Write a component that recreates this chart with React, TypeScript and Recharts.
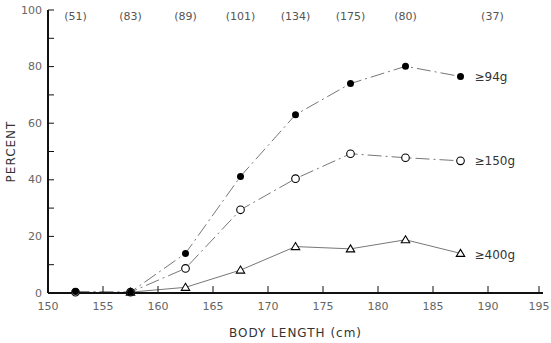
import React from 'react';
import { ComposedChart, Line, Scatter, XAxis, YAxis } from 'recharts';

const lengths = [152.5, 157.5, 162.5, 167.5, 172.5, 177.5, 182.5, 187.5];
const over94 = [0.5, 0.3, 14, 41.2, 63, 74, 80.1, 76.5];
const over150 = [0.3, 0.3, 8.7, 29.4, 40.4, 49.2, 47.8, 46.7];
const over400 = [null, 0.3, 2, 8.1, 16.4, 15.6, 18.8, 14];

const sampleX = [152.5, 157.5, 162.5, 167.5, 172.5, 177.5, 182.5, 190.4];
const sampleCounts = ['(51)', '(83)', '(89)', '(101)', '(134)', '(175)', '(80)', '(37)'];

const xTicks = [150, 155, 160, 165, 170, 175, 180, 185, 190, 195];
const yTicks = [0, 10, 20, 30, 40, 50, 60, 70, 80, 90, 100];

const FONT = '"DejaVu Sans", sans-serif';
const INK = '#333';

const toRows = (values: (number | null)[]) =>
  lengths.map((x, i) => ({ x, y: values[i] }));

const countRows = sampleX.map((x, i) => ({ x, y: 97.7, label: sampleCounts[i] }));

const FilledDot = (p: any) =>
  p.cy == null ? <g key={p.index} /> : <circle key={p.index} cx={p.cx} cy={p.cy} r={3.5} fill="#000" />;

const OpenDot = (p: any) =>
  p.cy == null ? <g key={p.index} /> : (
    <circle key={p.index} cx={p.cx} cy={p.cy} r={3.8} fill="#fff" stroke="#000" strokeWidth={1.1} />
  );

const TriDot = (p: any) =>
  p.cy == null ? <g key={p.index} /> : (
    <path
      key={p.index}
      d={`M${p.cx},${p.cy - 4} L${p.cx + 4.2},${p.cy + 3} L${p.cx - 4.2},${p.cy + 3} Z`}
      fill="#fff"
      stroke="#000"
      strokeWidth={1.1}
    />
  );

const endLabel = (text: string, dy: number) => (p: any) =>
  p.index === lengths.length - 1 ? (
    <text x={p.x + 14} y={p.y + dy} fontSize={12} fontFamily={FONT} fill={INK} dominantBaseline="central">
      {text}
    </text>
  ) : (
    <g />
  );

const YTick = ({ x, y, payload }: any) => (
  <g>
    <line x1={x} x2={x + 6} y1={y} y2={y} stroke="#111" />
    {payload.value % 20 === 0 && (
      <text x={x - 6} y={y} textAnchor="end" dominantBaseline="central" fontSize={11} fontFamily={FONT} fill="#666">
        {payload.value}
      </text>
    )}
  </g>
);

const XTick = ({ x, y, payload }: any) => (
  <g>
    <line x1={x} x2={x} y1={y} y2={y - 7} stroke="#111" />
    <text x={x} y={y + 13} textAnchor="middle" dominantBaseline="central" fontSize={11} fontFamily={FONT} fill="#666">
      {payload.value}
    </text>
  </g>
);

const CountLabel = (p: any) => (
  <text x={p.cx} y={p.cy} textAnchor="middle" dominantBaseline="central" fontSize={11} fontFamily={FONT} fill="#555">
    {p.payload.label}
  </text>
);

export default function App() {
  return (
    <div style={{ position: 'absolute', left: 0, top: 0, background: '#fff' }}>
      <ComposedChart width={551} height={343} margin={{ top: 10, right: 8, bottom: 0, left: 0 }}>
        <XAxis
          type="number"
          dataKey="x"
          domain={[150, 195]}
          ticks={xTicks}
          height={50}
          tickSize={0}
          tickMargin={0}
          tick={<XTick />}
          axisLine={{ stroke: '#111', strokeWidth: 2 }}
          tickLine={false}
          allowDataOverflow
          label={{
            value: 'BODY LENGTH (cm)',
            position: 'insideBottom',
            offset: 6,
            fontSize: 12,
            fontFamily: FONT,
            fill: INK,
            letterSpacing: 1,
          }}
        />
        <YAxis
          type="number"
          dataKey="y"
          domain={[0, 100]}
          ticks={yTicks}
          width={48}
          tickSize={0}
          tickMargin={0}
          tick={<YTick />}
          axisLine={{ stroke: '#111', strokeWidth: 2 }}
          tickLine={false}
          interval={0}
          label={{
            value: 'PERCENT',
            angle: -90,
            position: 'insideLeft',
            offset: 11,
            textAnchor: 'middle',
            fontSize: 12,
            fontFamily: FONT,
            fill: INK,
            letterSpacing: 1,
          }}
        />
        <Line
          data={toRows(over400)}
          dataKey="y"
          stroke="#777"
          strokeWidth={1}
          dot={<TriDot />}
          label={endLabel('≥400g', 2)}
          isAnimationActive={false}
        />
        <Line
          data={toRows(over150)}
          dataKey="y"
          stroke="#777"
          strokeWidth={1}
          strokeDasharray="14 4 2 4"
          dot={<OpenDot />}
          label={endLabel('≥150g', 0)}
          isAnimationActive={false}
        />
        <Line
          data={toRows(over94)}
          dataKey="y"
          stroke="#777"
          strokeWidth={1}
          strokeDasharray="14 4 2 4"
          dot={<FilledDot />}
          label={endLabel('≥94g', 0)}
          isAnimationActive={false}
        />
        <Scatter data={countRows} dataKey="y" shape={<CountLabel />} isAnimationActive={false} />
      </ComposedChart>
    </div>
  );
}
